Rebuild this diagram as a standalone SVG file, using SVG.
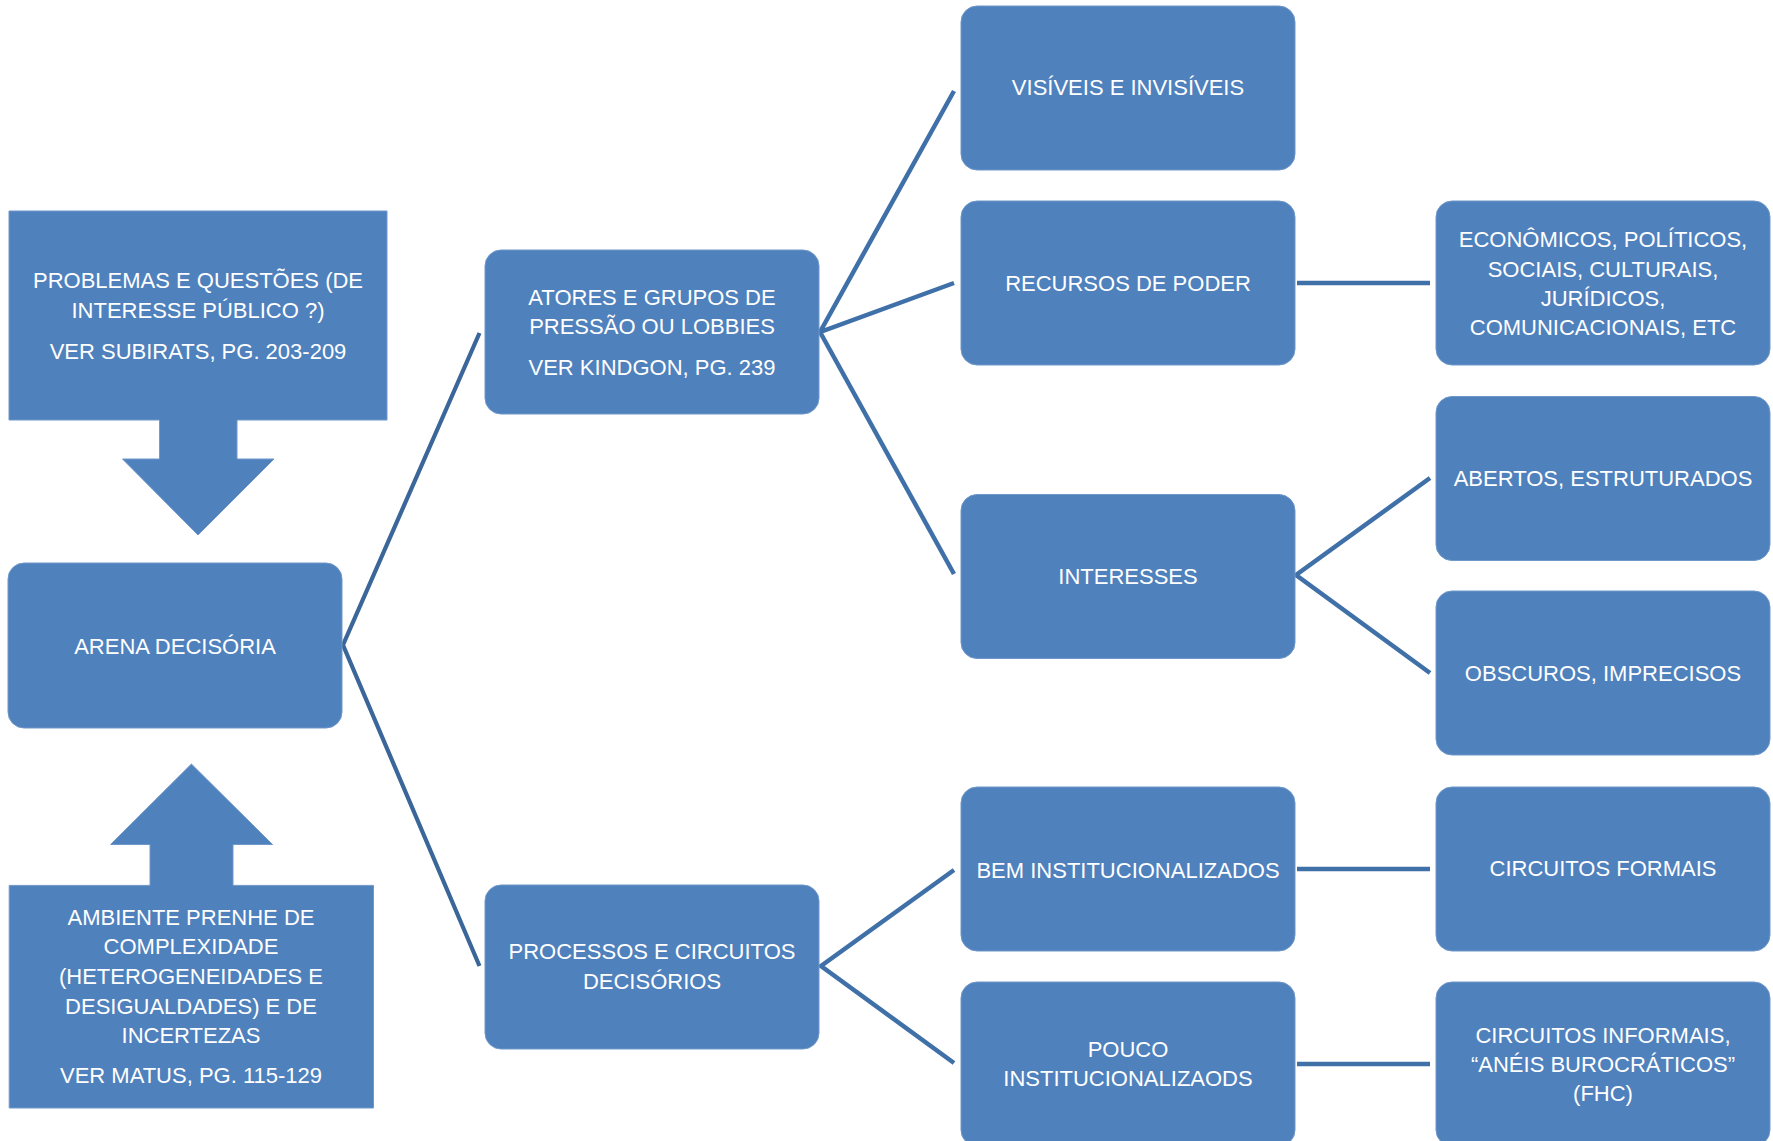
<svg xmlns="http://www.w3.org/2000/svg" width="1773" height="1141" viewBox="0 0 1773 1141">
<style>
.box{fill:#4F81BD;stroke:#6F97C9;stroke-width:1}
.t{font-family:"Liberation Sans",Arial,sans-serif;font-size:22px;fill:#FFFFFF;text-anchor:middle}
.c{fill:none;stroke:#4070A8;stroke-width:4.5;stroke-linejoin:miter}
.cl{fill:none;stroke:#3B6699;stroke-width:4.2;stroke-linejoin:miter}
</style>
<rect width="1773" height="1141" fill="#FFFFFF"/>
<g id="connectors">
<polyline class="cl" points="479.5,333 343,645 479.5,966"/>
<polyline class="c" points="954,91 820,332 954,283"/>
<polyline class="c" points="820,332 954,574"/>
<polyline class="c" points="1430,478 1296,575 1430,673"/>
<line class="c" x1="1297" y1="283" x2="1430" y2="283"/>
<polyline class="c" points="954,870 821,966 954,1063"/>
<line class="c" x1="1297" y1="869" x2="1430" y2="869"/>
<line class="c" x1="1297" y1="1064" x2="1430" y2="1064"/>
</g>
<g id="problemas">
<path class="box" d="M9,211 H387 V420 H237 V459 H274 L198,535 L122.5,459 H159.6 V420 H9 Z"/>
<text class="t" x="198" y="288">PROBLEMAS E QUESTÕES (DE</text>
<text class="t" x="198" y="318">INTERESSE PÚBLICO ?)</text>
<text class="t" x="198" y="359">VER SUBIRATS, PG. 203-209</text>
</g>
<g id="arena">
<rect class="box" x="8" y="563" width="334" height="165" rx="16"/>
<text class="t" x="175" y="654">ARENA DECISÓRIA</text>
</g>
<g id="ambiente">
<path class="box" d="M191.4,764 L272.5,844.5 H233 V885.4 H373.5 V1108 H9.2 V885.4 H150 V844.5 H110.6 Z"/>
<text class="t" x="191" y="925">AMBIENTE PRENHE DE</text>
<text class="t" x="191" y="954">COMPLEXIDADE</text>
<text class="t" x="191" y="984">(HETEROGENEIDADES E</text>
<text class="t" x="191" y="1014">DESIGUALDADES) E DE</text>
<text class="t" x="191" y="1043">INCERTEZAS</text>
<text class="t" x="191" y="1083">VER MATUS, PG. 115-129</text>
</g>
<g id="atores">
<rect class="box" x="485" y="250" width="334" height="164" rx="16"/>
<text class="t" x="652" y="305">ATORES E GRUPOS DE</text>
<text class="t" x="652" y="334">PRESSÃO OU LOBBIES</text>
<text class="t" x="652" y="375">VER KINDGON, PG. 239</text>
</g>
<g id="processos">
<rect class="box" x="485" y="885" width="334" height="164" rx="16"/>
<text class="t" x="652" y="959">PROCESSOS E CIRCUITOS</text>
<text class="t" x="652" y="989">DECISÓRIOS</text>
</g>
<g id="visiveis">
<rect class="box" x="961" y="6" width="334" height="164" rx="16"/>
<text class="t" x="1128" y="95">VISÍVEIS E INVISÍVEIS</text>
</g>
<g id="recursos">
<rect class="box" x="961" y="201" width="334" height="164" rx="16"/>
<text class="t" x="1128" y="291">RECURSOS DE PODER</text>
</g>
<g id="interesses">
<rect class="box" x="961" y="494.5" width="334" height="164" rx="16"/>
<text class="t" x="1128" y="584">INTERESSES</text>
</g>
<g id="bem">
<rect class="box" x="961" y="787" width="334" height="164" rx="16"/>
<text class="t" x="1128" y="878">BEM INSTITUCIONALIZADOS</text>
</g>
<g id="pouco">
<rect class="box" x="961" y="982" width="334" height="164" rx="16"/>
<text class="t" x="1128" y="1057">POUCO</text>
<text class="t" x="1128" y="1086">INSTITUCIONALIZAODS</text>
</g>
<g id="economicos">
<rect class="box" x="1436" y="201" width="334" height="164" rx="16"/>
<text class="t" x="1603" y="247">ECONÔMICOS, POLÍTICOS,</text>
<text class="t" x="1603" y="276.5">SOCIAIS, CULTURAIS,</text>
<text class="t" x="1603" y="305.5">JURÍDICOS,</text>
<text class="t" x="1603" y="335">COMUNICACIONAIS, ETC</text>
</g>
<g id="abertos">
<rect class="box" x="1436" y="396.5" width="334" height="164" rx="16"/>
<text class="t" x="1603" y="486">ABERTOS, ESTRUTURADOS</text>
</g>
<g id="obscuros">
<rect class="box" x="1436" y="591" width="334" height="164" rx="16"/>
<text class="t" x="1603" y="681">OBSCUROS, IMPRECISOS</text>
</g>
<g id="formais">
<rect class="box" x="1436" y="787" width="334" height="164" rx="16"/>
<text class="t" x="1603" y="876">CIRCUITOS FORMAIS</text>
</g>
<g id="informais">
<rect class="box" x="1436" y="982" width="334" height="164" rx="16"/>
<text class="t" x="1603" y="1043">CIRCUITOS INFORMAIS,</text>
<text class="t" x="1603" y="1072">“ANÉIS BUROCRÁTICOS”</text>
<text class="t" x="1603" y="1101">(FHC)</text>
</g>
</svg>
